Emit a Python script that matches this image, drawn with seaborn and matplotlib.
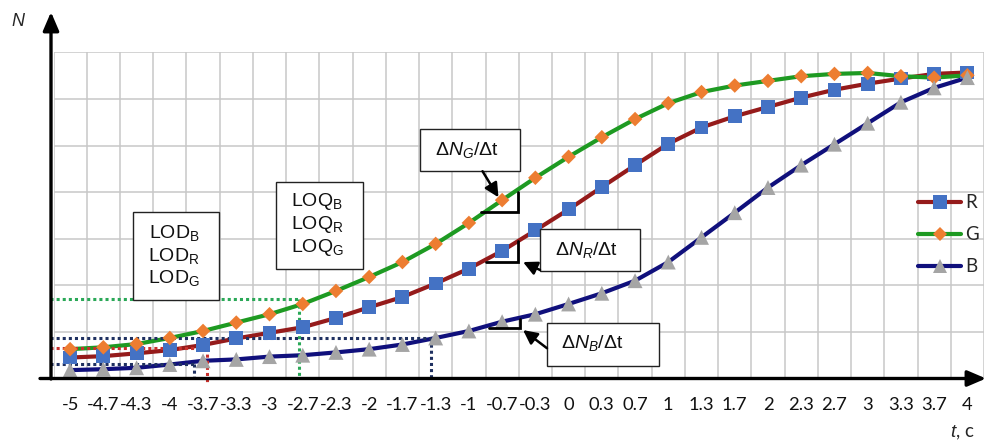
import numpy as np
import pandas as pd
import matplotlib
matplotlib.use("Agg")
import matplotlib.pyplot as plt
import seaborn as sns
from matplotlib.lines import Line2D
from matplotlib.patches import Rectangle, FancyArrowPatch

# ---- data -------------------------------------------------------------
t_labels = ["-5", "-4.7", "-4.3", "-4", "-3.7", "-3.3", "-3", "-2.7", "-2.3", "-2",
            "-1.7", "-1.3", "-1", "-0.7", "-0.3", "0", "0.3", "0.7", "1", "1.3",
            "1.7", "2", "2.3", "2.7", "3", "3.3", "3.7", "4"]
n_r = [0.45, 0.48, 0.54, 0.61, 0.72, 0.86, 0.98, 1.10, 1.30, 1.53,
       1.75, 2.04, 2.36, 2.74, 3.18, 3.63, 4.11, 4.58, 5.04, 5.39,
       5.63, 5.83, 6.03, 6.20, 6.33, 6.44, 6.54, 6.57]
n_g = [0.63, 0.67, 0.74, 0.87, 1.02, 1.20, 1.38, 1.60, 1.88, 2.18,
       2.50, 2.89, 3.34, 3.83, 4.31, 4.76, 5.18, 5.57, 5.91, 6.15,
       6.29, 6.39, 6.49, 6.54, 6.56, 6.49, 6.46, 6.51]
n_b = [0.18, 0.20, 0.23, 0.30, 0.38, 0.41, 0.47, 0.50, 0.56, 0.63,
       0.73, 0.87, 1.02, 1.22, 1.38, 1.60, 1.83, 2.10, 2.50, 3.03,
       3.56, 4.10, 4.58, 5.03, 5.48, 5.93, 6.24, 6.46]
series_names = ["R", "G", "B"]

# detection / quantification guide levels (N value, t position as category index)
guide_level = [1.70, 0.86, 0.66, 0.31]
guide_pos = [6.90, 10.86, 4.12, 3.72]

# ---- styling ----------------------------------------------------------
sns.set_theme(style="white")
plt.rcParams["font.family"] = ["Lato", "DejaVu Sans"]
plt.rcParams["mathtext.fontset"] = "custom"
plt.rcParams["mathtext.rm"] = "Liberation Sans"
plt.rcParams["mathtext.it"] = "Liberation Sans:italic"
plt.rcParams["mathtext.bf"] = "Liberation Sans:bold"

line_pal = {"R": "#951B1B", "G": "#1E9A22", "B": "#10107C"}
mark_pal = {"R": "#4472C4", "G": "#ED7D31", "B": "#A5A5A5"}
mark_shape = {"R": "s", "G": "D", "B": "^"}
mark_area = {"R": 100, "G": 55, "B": 115}
guide_col = ["#2AA857", "#1F3060", "#C8302C", "#1F3060"]

idx = np.arange(len(t_labels))
df = pd.concat([
    pd.DataFrame({"idx": idx, "N": vals, "series": name})
    for name, vals in zip(series_names, [n_r, n_g, n_b])
], ignore_index=True)

W, H = 984, 443
fig = plt.figure(figsize=(W / 100, H / 100), dpi=100)
ax = fig.add_axes([53.5 / W, (H - 378.5) / H, (W - 53.5) / W, (378.5 - 52) / H])

sns.lineplot(data=df, x="idx", y="N", hue="series", hue_order=series_names,
             palette=line_pal, lw=3.0, legend=False, sort=False, ax=ax, zorder=3)
sns.scatterplot(data=df, x="idx", y="N", hue="series", style="series",
                size="series", hue_order=series_names, style_order=series_names,
                size_order=series_names, sizes=mark_area,
                markers=mark_shape, palette=mark_pal, linewidth=0,
                legend=False, ax=ax, zorder=4)

ax.set_xlim(-0.5, (W - 70) / 33.6)
ax.set_ylim(0, 7.01)
ax.set_xticks(idx)
ax.set_xticklabels(t_labels, fontsize=13.2, color="#111111")
ax.set_xticks(np.arange(-0.5, len(t_labels), 1), minor=True)
ax.set_yticks(np.arange(1, 8))
ax.tick_params(axis="x", which="both", length=0, pad=13.5)
ax.tick_params(axis="y", left=False, labelleft=False)
ax.grid(which="minor", axis="x", color="#C8C8C8", lw=1.1)
ax.grid(which="major", axis="y", color="#C8C8C8", lw=1.1)
ax.grid(which="major", axis="x", visible=False)
ax.set_xlabel("")
ax.set_ylabel("")
for s in ax.spines.values():
    s.set_visible(False)

# dotted guides for LOD / LOQ
for lvl, pos, col in zip(guide_level, guide_pos, guide_col):
    floor = -0.08 if pos < 5 else 0.0
    ax.plot([-0.62, pos], [lvl, lvl], ls=(0, (1, 1)), lw=2.2, color=col,
            zorder=3.5, clip_on=False, dash_capstyle="butt")
    ax.plot([pos, pos], [lvl, floor], ls=(0, (1, 1)), lw=2.2, color=col,
            zorder=3.5, clip_on=False, dash_capstyle="butt")

# slope brackets and their callouts
for (x0, x1, y0, y1) in [(12.35, 13.48, 3.57, 4.00),
                         (12.50, 13.48, 2.50, 2.95),
                         (12.59, 13.55, 1.08, 1.28)]:
    ax.plot([x0, x1, x1], [y0, y0, y1], color="black", lw=2.0, zorder=5,
            solid_joinstyle="miter")

def box(x0, x1, y0, y1):
    ax.add_patch(Rectangle((x0, y0), x1 - x0, y1 - y0, facecolor="white",
                           edgecolor="#222222", lw=1.0, zorder=6))

box(1.90, 4.49, 1.68, 3.57)
box(6.19, 8.81, 2.35, 4.21)
box(10.54, 13.54, 4.45, 5.35)
box(14.14, 17.14, 2.31, 3.21)
box(14.35, 17.71, 0.27, 1.19)

ann_font = dict(fontsize=14, family="Liberation Sans", color="#111111",
                ha="center", va="center", zorder=7)
for y, s in zip([3.12, 2.63, 2.15], ["B", "R", "G"]):
    ax.text(3.13, y, rf"LOD$\mathrm{{_{s}}}$", **ann_font)
for y, s in zip([3.81, 3.31, 2.82], ["B", "R", "G"]):
    ax.text(7.44, y, rf"LOQ$\mathrm{{_{s}}}$", **ann_font)
ax.text(11.95, 4.90, r"Δ$N_G$/Δt", **ann_font)
ax.text(15.55, 2.76, r"Δ$N_R$/Δt", **ann_font)
ax.text(15.72, 0.76, r"Δ$N_B$/Δt", **ann_font)

arrow_kw = dict(arrowstyle="-|>,head_length=0.6,head_width=0.3", lw=1.8,
                color="black", shrinkA=0, shrinkB=0, mutation_scale=14)
for (xs, ys, xe, ye) in [(12.41, 4.45, 12.89, 3.89),
                         (14.14, 2.33, 13.63, 2.50),
                         (14.35, 0.65, 13.63, 1.04)]:
    ax.annotate("", xy=(xe, ye), xytext=(xs, ys), arrowprops=arrow_kw,
                zorder=7)

# legend
leg_ms = {"R": 10, "G": 7.4, "B": 10.5}
handles = [Line2D([], [], color=line_pal[n], lw=3.0, marker=mark_shape[n],
                  markersize=leg_ms[n], markerfacecolor=mark_pal[n],
                  markeredgewidth=0) for n in series_names]
ax.legend(handles, series_names, loc="center left",
          bbox_to_anchor=(918 / W, 1 - 235 / H), bbox_transform=fig.transFigure,
          frameon=False, fontsize=13.5, handlelength=2.3, handletextpad=0.2,
          labelspacing=0.8, borderpad=0, borderaxespad=0)

# axes drawn as arrows
arr_axis = dict(arrowstyle="-|>,head_length=0.7,head_width=0.3", lw=2.4,
                color="black", shrinkA=0, shrinkB=0, mutation_scale=16)
fig.add_artist(FancyArrowPatch((51, H - 379), (51, H - 12), transform=None,
                               **arr_axis))
fig.add_artist(FancyArrowPatch((40, H - 378.5), (986, H - 378.5),
                               transform=None, **arr_axis))

fig.text(18 / W, 1 - 22 / H, "N", fontsize=13, style="italic",
         family="Liberation Sans", ha="center", va="center")
fig.text(962 / W, 1 - 433 / H, "$t$, c", fontsize=13.5, ha="center", va="center")

fig.savefig("out.png", dpi=100)
